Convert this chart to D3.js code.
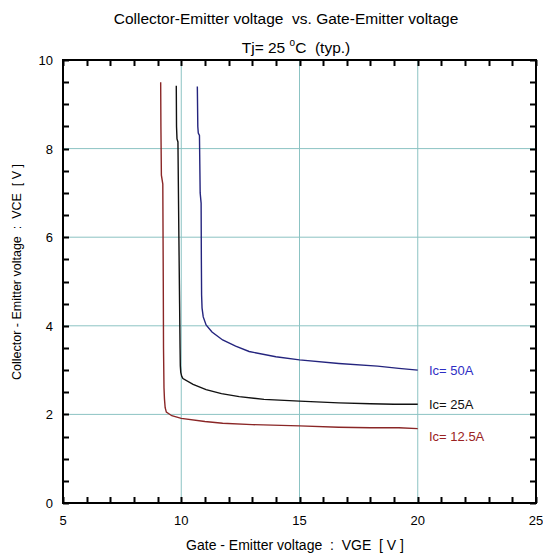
<!DOCTYPE html>
<html><head><meta charset="utf-8">
<script src="https://cdn.jsdelivr.net/npm/d3@7"></script>
<style>body{margin:0;background:#fff}svg{display:block}text{font-family:"Liberation Sans",Arial,sans-serif}</style>
</head><body>
<script>
const xTicks = [5, 10, 15, 20, 25];
const yTicks = [0, 2, 4, 6, 8, 10];
const seriesNames = ["Ic= 50A", "Ic= 25A", "Ic= 12.5A"];
const seriesLabelY = [3.0, 2.23, 1.52];
const vge50 = [10.68,10.7,10.72,10.77,10.8,10.84,10.85,10.86,10.88,10.93,11.05,11.3,11.75,12.3,12.87,14,15,16.66,18.3,19.2,20];
const vce50 = [9.4,8.5,8.35,8.3,7,6.77,5.5,4.7,4.4,4.2,4.02,3.86,3.68,3.54,3.42,3.30,3.23,3.15,3.09,3.04,3.0];
const vge25 = [9.79,9.8,9.82,9.86,9.9,9.93,9.95,9.96,9.98,10.02,10.07,10.5,11.05,11.7,12.45,13.5,15,16.66,18,19,20];
const vce25 = [9.42,8.5,8.22,8.15,6,4.5,3.5,3.1,2.95,2.86,2.81,2.68,2.56,2.47,2.40,2.34,2.30,2.26,2.24,2.23,2.23];
const vge12 = [9.13,9.14,9.16,9.22,9.24,9.25,9.27,9.29,9.32,9.37,9.6,10.0,11,11.75,13,15,16.66,18,19.2,20];
const vce12 = [9.5,8.5,7.4,7.2,5,3.5,2.6,2.35,2.15,2.05,1.97,1.91,1.84,1.80,1.77,1.74,1.71,1.70,1.70,1.68];

const W = 543, H = 556;
const m = {l:63, r:536, t:60, b:503};
const svg = d3.select("body").append("svg").attr("width", W).attr("height", H);
const x = d3.scaleLinear().domain([5,25]).range([m.l, m.r]);
const y = d3.scaleLinear().domain([0,10]).range([m.b, m.t]);

const gridC = "#8cc3c3";
svg.append("g").selectAll("line").data(xTicks.slice(1,-1)).join("line")
  .attr("x1", d=>x(d)).attr("x2", d=>x(d)).attr("y1", m.t).attr("y2", m.b)
  .attr("stroke", gridC).attr("stroke-width", 1);
svg.append("g").selectAll("line").data(yTicks.slice(1,-1)).join("line")
  .attr("y1", d=>y(d)).attr("y2", d=>y(d)).attr("x1", m.l).attr("x2", m.r)
  .attr("stroke", gridC).attr("stroke-width", 1);

svg.append("rect").attr("x", m.l).attr("y", m.t).attr("width", m.r-m.l).attr("height", m.b-m.t)
  .attr("fill", "none").attr("stroke", "#000").attr("stroke-width", 2);

// inward ticks as one path
const xMinor = d3.range(5, 25.01, 1);
const yMinor = d3.range(0, 10.01, 0.5);
const L = 6;
let dStr = "";
xMinor.forEach(v => { const px = Math.round(x(v)) + 0.5;
  dStr += `M${px},${m.b}V${m.b-L}M${px},${m.t}V${m.t+L}`; });
yMinor.forEach(v => { const py = Math.round(y(v)) + 0.5;
  dStr += `M${m.l},${py}H${m.l+L}M${m.r},${py}H${m.r-L}`; });
svg.append("path").attr("d", dStr).attr("fill","none").attr("stroke","#000").attr("stroke-width",2);

svg.append("g").selectAll("text").data(xTicks).join("text")
  .attr("x", d=>x(d)).attr("y", 525).attr("text-anchor", "middle")
  .attr("font-size", 13).text(d=>d);
svg.append("g").selectAll("text").data(yTicks).join("text")
  .attr("x", 53).attr("y", d=>y(d)+5).attr("text-anchor", "end")
  .attr("font-size", 13).text(d=>d);

const lineX = d3.line().x(d=>x(d[0])).y(d=>y(d[1])).curve(d3.curveLinear);
const series = [
  {name: seriesNames[0], xs: vge50, ys: vce50, c: "#24247e", tc: "#2e2ec4", ly: seriesLabelY[0]},
  {name: seriesNames[1], xs: vge25, ys: vce25, c: "#111", tc: "#111", ly: seriesLabelY[1]},
  {name: seriesNames[2], xs: vge12, ys: vce12, c: "#8a2626", tc: "#9a2222", ly: seriesLabelY[2]}
];
series.forEach(s => {
  const pts = s.xs.map((v,i)=>[v, s.ys[i]]);
  svg.append("path").attr("d", lineX(pts)).attr("fill","none").attr("stroke", s.c).attr("stroke-width", 1.4);
  svg.append("text").attr("x", 429).attr("y", y(s.ly)+5).attr("font-size", 13).attr("fill", s.tc).text(s.name);
});

svg.append("text").attr("x", 286).attr("y", 24).attr("text-anchor","middle").attr("font-size", 15.5).attr("xml:space","preserve")
  .text("Collector-Emitter voltage  vs. Gate-Emitter voltage");
const st = svg.append("text").attr("x", 296).attr("y", 53).attr("text-anchor","middle").attr("font-size", 15.5).attr("xml:space","preserve");
st.append("tspan").text("Tj= 25 ");
st.append("tspan").attr("font-size", 10).attr("dy", -7).text("o");
st.append("tspan").attr("dy", 7).text("C  (typ.)");

svg.append("text").attr("x", 295).attr("y", 550).attr("text-anchor","middle").attr("font-size", 14).attr("xml:space","preserve")
  .text("Gate - Emitter voltage  :  VGE  [ V ]");
svg.append("text").attr("transform", "translate(21,272) rotate(-90)").attr("text-anchor","middle").attr("font-size", 12.5).attr("xml:space","preserve")
  .text("Collector - Emitter voltage  :  VCE  [ V ]");
</script>
</body></html>
